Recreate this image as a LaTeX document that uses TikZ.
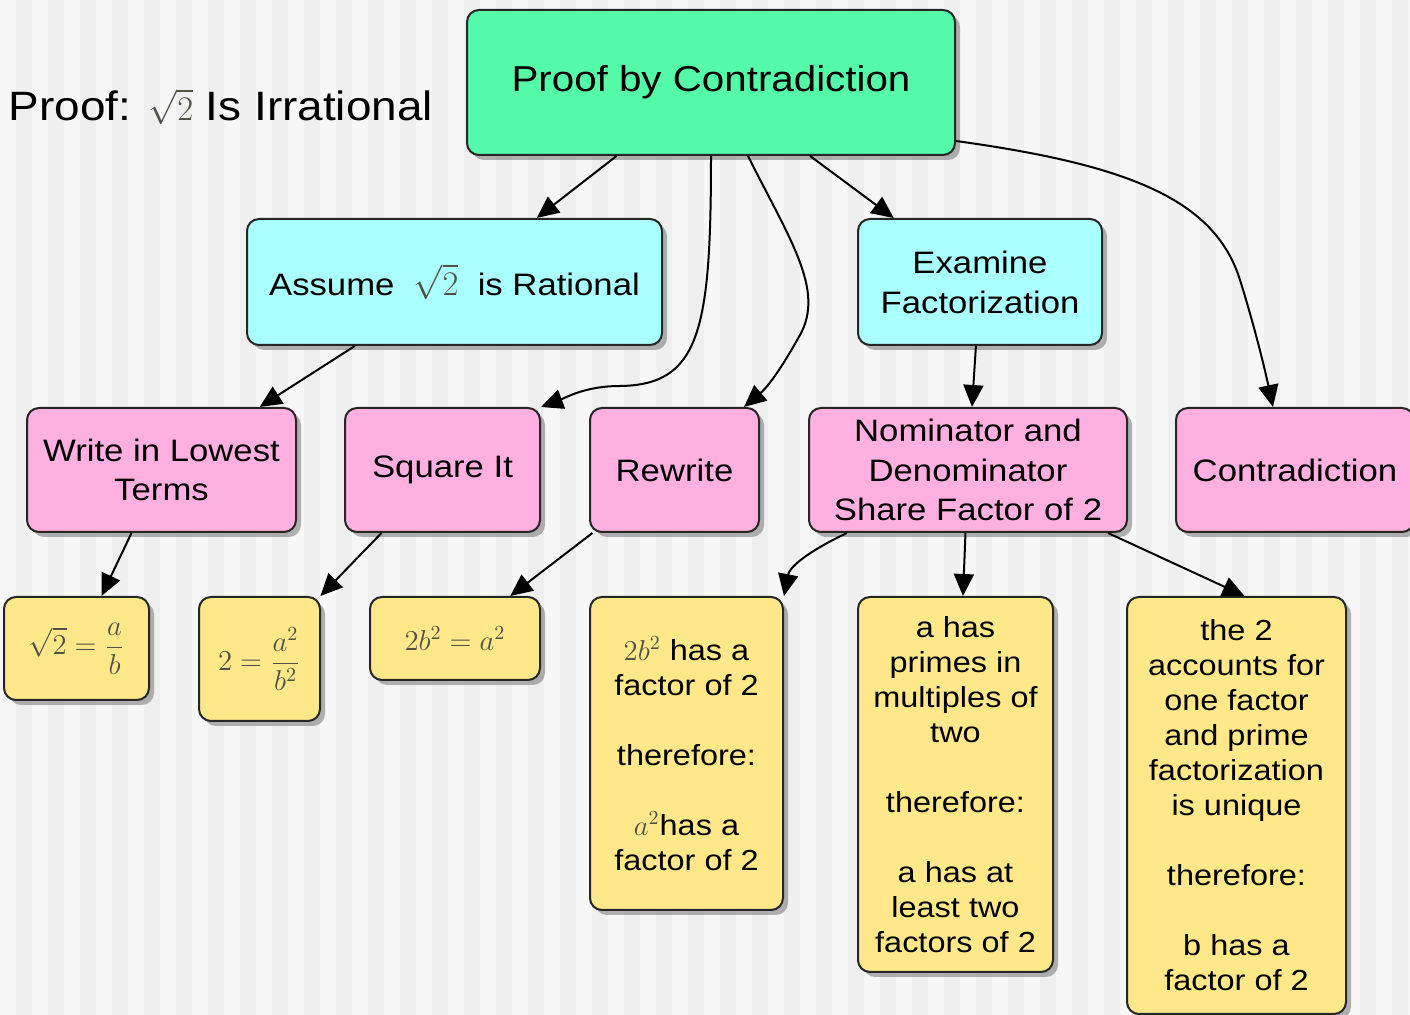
\documentclass[tikz,border=0pt]{standalone}
\usepackage{fontspec}
\setmainfont{Liberation Sans}[FakeStretch=1.12]
\usepackage{xcolor}
\usepackage{tikz}
\usetikzlibrary{arrows.meta, shadows}

\definecolor{rootgreen}{RGB}{85,250,168}
\definecolor{stepcyan}{RGB}{170,255,255}
\definecolor{steppink}{RGB}{255,176,224}
\definecolor{noteyellow}{RGB}{255,232,138}
\definecolor{mathgray}{RGB}{80,80,70}
\definecolor{bgstripe}{RGB}{239,239,239}
\definecolor{bgplain}{RGB}{247,247,247}

\newcommand{\mth}[1]{\textcolor{mathgray}{$#1$}}

\begin{document}
\begin{tikzpicture}[x=0.5pt, y=-0.5pt,
  box/.style={draw=black!85, line width=1pt, rounded corners=6pt, align=center, inner sep=0pt,
    drop shadow={shadow xshift=2.5pt, shadow yshift=-2.5pt, opacity=0.6}},
  topbox/.style={box, fill=rootgreen, font=\fontsize{18}{22}\selectfont},
  midbox/.style={box, fill=stepcyan, font=\fontsize{15.5}{20}\selectfont},
  stepbox/.style={box, fill=steppink, font=\fontsize{15.5}{19.75}\selectfont},
  notebox/.style={box, fill=noteyellow, font=\fontsize{14.5}{17.5}\selectfont},
  arr/.style={-{Triangle[length=11pt, width=10pt]}, line width=1pt}]

  \useasboundingbox (0,0) rectangle (1410,1015);
  \fill[bgplain] (0,0) rectangle (1410,1015);
  \foreach \sx in {16,48,...,1408} {
    \fill[bgstripe] (\sx,0) rectangle ++(16,1015);
  }

  \node[font=\fontsize{20.5}{24}\selectfont] (title) at (221,107)
    {Proof: {\fontsize{16}{16}\selectfont\mth{\sqrt{2}}} Is Irrational};

  \node[topbox, minimum width=244pt, minimum height=72.5pt] (root) at (711,82.5) {Proof by Contradiction};

  \node[midbox, minimum width=207.5pt, minimum height=63pt] (assume) at (454.5,282)
    {Assume \ {\fontsize{16}{16}\selectfont\mth{\sqrt{2}}} \ is Rational};
  \node[midbox, minimum width=122pt, minimum height=63pt] (examine) at (980,282)
    {Examine\\Factorization};

  \node[stepbox, minimum width=134.5pt, minimum height=62pt] (write) at (161.5,470) {Write in Lowest\\Terms};
  \node[stepbox, minimum width=97.5pt, minimum height=62pt] (square) at (442.5,470) {Square It};
  \node[stepbox, minimum width=84.5pt, minimum height=62pt] (rewrite) at (674.5,470) {Rewrite};
  \node[stepbox, minimum width=159pt, minimum height=62pt] (share) at (968,470)
    {Nominator and\\Denominator\\Share Factor of 2};
  \node[stepbox, minimum width=119pt, minimum height=62pt] (contra) at (1295,470) {Contradiction};

  \node[notebox, minimum width=72.5pt, minimum height=51.5pt] (eqa) at (76.5,648.5)
    {\mth{\displaystyle\sqrt{2}=\frac{a}{b}}};
  \node[notebox, minimum width=60.5pt, minimum height=62pt] (eqb) at (259.5,659)
    {\mth{\displaystyle 2=\frac{a^2}{b^2}}};
  \node[notebox, minimum width=85pt, minimum height=41.5pt] (eqc) at (455,638.5)
    {\mth{2b^2 = a^2}};
  \node[notebox, minimum width=96.5pt, minimum height=156.5pt] (facta) at (686.5,753.5)
    {\mth{2b^2}\ has a\\factor of 2\\[17.5pt]therefore:\\[17.5pt]\mth{a^2}has a\\factor of 2};
  \node[notebox, minimum width=97.5pt, minimum height=187.5pt] (primes) at (955.5,784.5)
    {a has\\primes in\\multiples of\\two\\[17.5pt]therefore:\\[17.5pt]a has at\\least two\\factors of 2};
  \node[notebox, minimum width=109.5pt, minimum height=208.5pt] (unique) at (1236.5,805.5)
    {the 2\\accounts for\\one factor\\and prime\\factorization\\is unique\\[17.5pt]therefore:\\[17.5pt]b has a\\factor of 2};

  \draw[arr] (root) -- (assume);
  \draw[arr] (root) -- (examine);
  \draw[arr] (root.south) .. controls (711,330) and (700,385) .. (620,386)
    .. controls (585,386) and (565,398) .. (square.north east);
  \draw[arr] ([xshift=18.5pt]root.south) .. controls (790,240) and (825,290) .. (800,335)
    .. controls (785,362) and (770,385) .. ([xshift=-8pt]rewrite.north east);
  \draw[arr] ([yshift=7.5pt]root.south east) .. controls (1130,165) and (1215,200) .. (1240,280)
    .. controls (1255,328) and (1265,370) .. ([xshift=-11pt]contra.north);

  \draw[arr] (assume) -- (write);
  \draw[arr] (examine) -- (share);
  \draw[arr] (write) -- (eqa);
  \draw[arr] (square) -- (eqb);
  \draw[arr] (rewrite) -- (eqc);
  \draw[arr] ([xshift=19.5pt]share.south west) .. controls (815,548) and (790,565) .. (facta.north east);
  \draw[arr] (share) -- (primes);
  \draw[arr] ([xshift=-10pt]share.south east) -- ([xshift=4pt]unique.north);
\end{tikzpicture}
\end{document}
